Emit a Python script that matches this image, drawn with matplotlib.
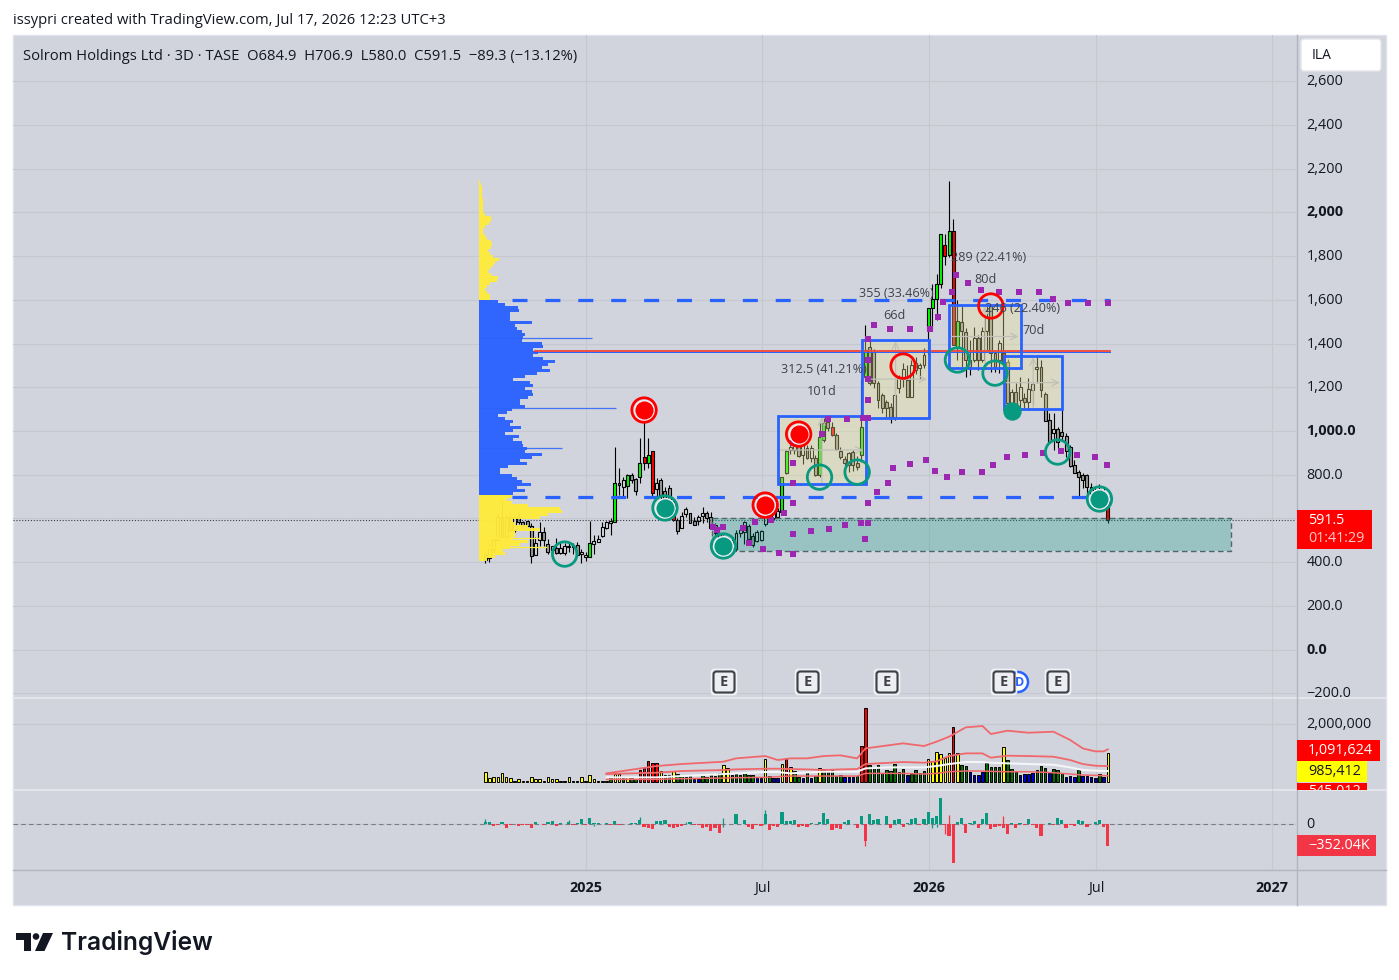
import numpy as np
import matplotlib
matplotlib.use("Agg")
import matplotlib.pyplot as plt
from matplotlib.patches import Rectangle, FancyBboxPatch, Polygon, Circle
from matplotlib.transforms import ScaledTranslation

# 3D OHLC candles
opens = [432,419,455,501,606,515,606,547,606,585,
         587,567,434,501,539,483,455,466,443,442,
         468,474,478,437,425,425,484,494,519,556,
         580,585,760,744,747,797,780,791,879,855,
         907,733,778,725,739,677,591,558,620,623,
         587,587,611,623,605,569,530,490,501,460,
         458,535,539,565,519,498,501,575,625,600,
         608,631,809,913,915,943,890,921,875,875,
         799,959,1043,1020,982,910,870,844,905,852,
         890,1249,1386,1363,1218,1165,1134,1111,1066,1195,
         1236,1233,1157,1279,1287,1302,1462,1561,1603,1671,
         1850,1805,1917,1386,1500,1452,1325,1325,1424,1325,
         1459,1572,1355,1325,1358,1317,1127,1180,1142,1149,
         1134,1188,1285,1294,1169,1050,989,1008,997,979,
         928,843,811,799,799,745,720,735,722,684.9]
highs = [440,485,510,620,680,615,620,612,625,590,
         590,577,516,585,562,504,472,512,486,486,
         486,486,490,458,445,587,524,524,583,590,
         600,925,829,791,802,809,783,966,1058,966,
         907,783,783,745,753,690,600,631,653,626,
         608,615,651,635,631,580,545,524,515,505,
         549,560,590,575,535,545,545,630,640,640,
         650,791,913,945,960,975,945,935,935,890,
         1035,1060,1066,1040,989,925,885,905,915,885,
         1240,1485,1416,1375,1230,1175,1140,1130,1233,1256,
         1310,1302,1325,1340,1310,1378,1561,1673,1719,1900,
         1900,2144,1969,1600,1577,1470,1416,1477,1440,1477,
         1572,1572,1365,1416,1568,1330,1190,1218,1249,1175,
         1241,1225,1340,1325,1180,1081,1081,1020,1096,989,
         935,867,821,810,805,760,745,756,745,706.9]
lows = [395,400,440,495,510,510,540,540,575,551,
        562,397,432,475,475,437,432,438,437,432,
        448,437,432,397,407,425,437,490,516,551,
        524,585,707,704,695,760,707,760,821,832,
        696,699,631,625,640,590,529,554,608,580,
        568,571,577,585,554,520,480,455,450,445,
        450,515,485,505,470,490,498,565,590,595,
        600,630,805,895,895,880,850,870,860,795,
        791,950,1000,975,913,870,809,814,815,821,
        860,1233,1210,1195,1104,1081,1066,1035,1050,1172,
        1200,1157,1155,1260,1240,1290,1347,1462,1508,1653,
        1760,1798,1394,1325,1294,1249,1256,1317,1280,1317,
        1371,1272,1272,1264,1300,1100,1100,1104,1096,1104,
        1096,1120,1218,1157,1047,944,913,913,959,882,
        837,806,703,740,707,707,690,670,660,580]
closes = [410,469,501,606,515,606,547,606,584,567,
          567,429,486,539,501,448,472,442,464,472,
          474,468,435,440,431,486,495,506,559,582,
          587,760,754,774,797,777,727,852,852,889,
          718,760,707,650,657,593,544,611,641,580,
          571,605,623,603,558,535,490,516,460,500,
          535,546,585,507,477,539,541,622,600,623,
          635,791,910,928,951,887,936,875,921,799,
          971,1035,1012,982,916,882,852,898,844,837,
          1020,1371,1218,1218,1142,1107,1107,1066,1165,1241,
          1282,1157,1302,1310,1302,1348,1561,1603,1671,1900,
          1802,1917,1394,1503,1459,1325,1294,1424,1325,1459,
          1523,1355,1294,1401,1310,1127,1180,1110,1203,1134,
          1192,1215,1294,1188,1047,951,1008,951,979,910,
          840,809,791,775,745,707,700,680,684,591.5]
green_bars = [25,31,34,37,39,71,72,80,81,90,91,106,107,108,109,111,113]
red_bars = [38,40,45,83,110,112,124,149]

# Volume in thousands, one colour letter per bar
volume = [325,116,151,174,290,151,116,23,81,23,
          23,151,81,81,23,151,81,81,23,23,
          151,23,35,174,23,221,81,23,23,23,
          116,256,256,116,151,116,81,395,465,708,
          639,639,360,221,221,360,256,186,151,186,
          81,81,256,151,256,186,290,569,465,221,
          256,221,290,221,221,151,116,778,186,116,
          116,604,778,499,372,151,128,325,128,186,
          465,430,325,395,186,221,151,151,151,186,
          1231,2555,569,499,569,290,395,360,604,325,
          430,221,256,395,290,360,778,708,1022,952,
          813,987,1893,987,569,534,325,221,221,325,
          639,499,499,499,1196,743,430,325,221,256,
          256,290,395,534,465,290,430,395,290,151,
          186,151,395,186,186,151,116,256,151,985]
volume_kind = ("yyyyyyyyyy" "yyyyyyyyyy" "yybyyyyyyy" "gyygygg" "rrr"
               "rryggygggg" "bbgggggyyg" "gggggbbygb" "byrygg" "bgbg"
               "yggggg" "bbbg" "rrgggggggg" "gbggggyyyy" "yyryggbbbb"
               "ggggyggg" "bb" "bbgggbgggb" "bbgbbbbgby")

# Volume bands, sampled along the lines
band_idx = [29,41,47,57,60,67,70,73,77,81,85,89,91,97,100,105,108,111,115,119,121,125,130,136,140,143,146,148,149]
band_upper = [290,546,616,697,813,894,755,813,813,894,918,813,1161,1278,1336,1243,1394,1568,1893,1940,1661,1777,1707,1742,1452,1161,1057,1057,1127]
band_mid = [267,314,372,407,430,453,453,441,430,407,430,441,616,662,685,662,708,894,987,987,836,906,894,871,755,616,557,546,546]
band_white = [151,151,197,267,290,337,337,290,325,348,348,348,465,499,499,499,546,616,685,685,662,639,616,592,499,407,383,372,372]
band_lower = [81,81,105,128,139,151,174,197,197,197,197,197,290,290,290,267,290,348,372,372,360,348,348,314,267,232,221,209,209]

# Volume delta in thousands
delta = [44,39,-33,-17,39,-61,-6,6,-22,-6,
         -17,-55,39,11,-6,44,50,-22,17,6,
         39,-6,17,88,-6,105,22,22,11,17,
         -6,55,-11,11,11,17,22,66,-44,-55,
         -77,50,55,72,-44,-55,-44,-22,6,39,
         -6,-6,-61,-44,-110,-61,-143,11,6,6,
         171,11,77,-44,-72,-17,-22,171,-88,-28,
         -44,204,55,55,66,-44,-28,-50,17,11,
         44,193,83,-99,-55,-83,33,72,6,-55,
         138,-275,165,77,94,11,132,-66,72,83,
         -44,17,83,99,-17,83,204,110,138,429,
         -11,-187,-633,44,110,-143,22,55,-55,83,
         182,-77,-44,-33,-55,-154,22,-55,17,-17,
         83,-6,-55,-187,11,17,-17,99,66,-55,
         -17,-33,66,55,-44,11,33,72,-39,-352]
delta_wick_idx = [0,20,37,48,57,57,67,91,110,111,124,107,108,26,31]
delta_wick_val = [83,72,121,39,99,-44,231,-358,-160,154,138,-55,-45,-25,30]

# Volume profile rows, top to bottom
profile_top = [3,6,8,9,10,10,11,11,12,12,11,18,36,37,31,18,13,11,18,23,36,38,35,28,33,43,60,48,43,33,28,35,58,53,33,23,18,25,33,33]
profile_value = [58,78,118,121,93,93,93,158,108,113,128,138,133,128,188,191,163,178,163,193,228,208,188,213,173,
                 138,103,153,161,138,158,163,148,123,123,138,98,83,58,78,103,93,125,103,78,121,103,128,133,143,
                 138,188,158,123,143,88,63,63,98,113,128,155,113,138,103]
profile_bottom = [98,83,98,148,243,248,208,183,103,108,148,183,108,108,103,148,123,93,73,78,48,23]
spike_prices = [1426,1105,922]
spike_sizes = [338,411,248]
yellow_spike_prices = [509,468]
yellow_spike_sizes = [183,205]

# Levels, boxes and markers
level_high = 1600
level_low = 699
poc = 1366
last_price = 591.5
zone = (54.2, 178.4, 451, 602)
boxes = [(70.0, 91.1, 757, 1069), (90.1, 106.3, 1059, 1416), (111.0, 128.2, 1288, 1577), (124.2, 138.1, 1100, 1343)]
box_text = [("312.5 (41.21%)", 70.8, 1282), ("101d", 77.0, 1182),
            ("355 (33.46%)", 89.5, 1629), ("66d", 95.3, 1529),
            ("289 (22.41%)", 111.4, 1793), ("80d", 117.0, 1693),
            ("246 (22.40%)", 119.5, 1561), ("70d", 128.6, 1461)]
target_red = ([38,75,67], [1096,986,661])
ring_red = ([100,121], [1297,1572])
ring_teal = ([19,80,89,113,122,137], [437,789,812,1325,1265,904])
target_teal = ([43,57,147], [648,474,689])
dot_teal = ([126], [1092])
dots_idx = [54.5,55.5,56.9,61.7,64.6,63.1,66.5,70.3,68.4,71.6,73.6,73.6,73.6,78,82.3,86.1,89.9,91.6,90.9,91.6,93.8,96.4,97.6,101.6,105.4,107.6,
            110.5,114.1,118.9,121.5,124.9,129.2,133.5,137.8,141.6,145.9,148.8,73.6,73.6,73.6,80.6,82,86.6,90.4,91.6,91.6,91.6,91.6,91.6,93,96.9,101.6,106.4,
            108.3,109.5,111.7,112.7,115.5,118.6,123,127.7,132.5,135.9,139.5,144.3,149]
dots_price = [561,547,561,556,584,487,460,442,593,625,670,529,437,542,551,570,579,579,506,670,721,762,831,849,867,817,
              789,812,812,844,881,890,899,908,890,881,844,762,854,945,986,1055,1055,1059,1059,1142,1238,1325,1421,1485,1467,1467,1467,
              1522,1590,1636,1714,1677,1645,1636,1636,1636,1604,1586,1586,1586]

price_ticks = [2600,2400,2200,2000,1800,1600,1400,1200,1000,800,600,400,200,0,-200]
price_labels = ["2,600","2,400","2,200","2,000","1,800","1,600","1,400","1,200","1,000.0","800.0","","400.0","200.0","0.0","\u2212200.0"]
bold_prices = ["2,000","1,000.0","0.0"]
time_ticks = [24.1,66.2,106.2,146.2,188.3]
time_labels = ["2025","Jul","2026","Jul","2027"]
earnings = [724,808,887,1004,1058]

BG = "#d1d4dc"
GRID = "#c6c8d0"
TXT = "#131722"
BLUE = "#2962ff"
TEAL = "#089981"
PURPLE = "#9c27b0"
plt.rcParams["font.family"] = ["Open Sans", "DejaVu Sans"]

W, H = 1399, 980
fig = plt.figure(figsize=(W / 100, H / 100), dpi=100, facecolor="white")


def make_pane(top, bottom, ylim):
    ax = fig.add_axes([13 / W, 1 - bottom / H, (1296 - 13) / W, (bottom - top) / H], zorder=2)
    ax.patch.set_alpha(0)
    ax.set_xlim(-113.04, 194.04)
    ax.set_ylim(*ylim)
    for s in ax.spines.values():
        s.set_visible(False)
    ax.yaxis.tick_right()
    ax.tick_params(length=0, labelcolor=TXT, labelsize=10.4)
    ax.tick_params(axis="y", pad=7.4)
    ax.set_xticks(time_ticks)
    ax.set_xticklabels([])
    ax.grid(True, color=GRID, lw=0.8, zorder=0)
    ax.set_axisbelow(True)
    return ax


# full figure layer in pixel coords, under the panes
back = fig.add_axes([0, 0, 1, 1], zorder=0)
back.set_xlim(0, W)
back.set_ylim(H, 0)
back.axis("off")
back.add_patch(Rectangle((13, 35), 1373, 870, fc=BG, ec="#e0e3eb", lw=1))
back.plot([13, 1386], [697.5, 697.5], color="#e9ebf0", lw=1.1)
back.plot([13, 1386], [789.5, 789.5], color="#e9ebf0", lw=1.1)
back.plot([13, 1386], [870, 870], color="#b2b5be", lw=1)
back.plot([1296.5, 1296.5], [35, 905], color="#b2b5be", lw=1)

price_ax = make_pane(35, 697, (-217, 2812))
vol_ax = make_pane(698, 789, (-254, 2916))
delta_ax = make_pane(790, 870, (-754, 566))

# Price pane
idx = np.arange(len(closes))
opens_a, closes_a = np.array(opens), np.array(closes)
price_ax.set_yticks(price_ticks)
price_ax.set_yticklabels(price_labels)
for lab in price_ax.get_yticklabels():
    if lab.get_text() in bold_prices:
        lab.set_fontweight("bold")

body_colors = []
for i in idx:
    if i in green_bars:
        body_colors.append("#00ff00")
    elif i in red_bars:
        body_colors.append("#ff0000")
    elif closes[i] >= opens[i]:
        body_colors.append("#d9dbe0")
    else:
        body_colors.append("#9a9a9a")
price_ax.vlines(idx, lows, highs, color="black", lw=0.8, zorder=3)
body_bottom = np.minimum(opens_a, closes_a)
body_height = np.maximum(np.abs(closes_a - opens_a), 8)
price_ax.bar(idx, body_height, bottom=body_bottom, width=0.7, color=body_colors,
             edgecolor="black", lw=0.8, zorder=3.1)

# zone and boxes sit over the candles
price_ax.add_patch(Rectangle((zone[0], zone[2]), zone[1] - zone[0], zone[3] - zone[2], fc=TEAL, alpha=0.28, ec="none", zorder=3.5))
price_ax.add_patch(Rectangle((zone[0], zone[2]), zone[1] - zone[0], zone[3] - zone[2], fc="none", ec="#4d6668", lw=1, ls=(0, (4, 2.5)), zorder=3.6))
for x0, x1, y0, y1 in boxes:
    price_ax.add_patch(Rectangle((x0, y0), x1 - x0, y1 - y0, fc="#ebe595", alpha=0.35, ec="none", zorder=3.5))
    xm, ym = (x0 + x1) / 2, (y0 + y1) / 2
    price_ax.annotate("", xy=(x1 - 0.6, ym), xytext=(x0, ym), zorder=3.7,
                      arrowprops=dict(arrowstyle="->", color="#c0c0b8", lw=0.9, mutation_scale=12, shrinkA=0, shrinkB=0))
    price_ax.annotate("", xy=(xm, y1 - 6), xytext=(xm, y0), zorder=3.7,
                      arrowprops=dict(arrowstyle="->", color="#c0c0b8", lw=0.9, mutation_scale=12, shrinkA=0, shrinkB=0))
    price_ax.add_patch(Rectangle((x0, y0), x1 - x0, y1 - y0, fc="none", ec=BLUE, lw=2.0, zorder=4.6))

# Volume profile
row_step = 13.73
all_rows = profile_top + profile_value + profile_bottom
row_prices = 2141 - row_step * np.arange(len(all_rows))
row_colors = ["#ffeb3b"] * len(profile_top) + [BLUE] * len(profile_value) + ["#ffeb3b"] * len(profile_bottom)
prof_left = -1.51
price_ax.barh(row_prices, np.array(all_rows) / 12.534, left=prof_left, height=row_step,
              color=row_colors, lw=0, alpha=0.96, zorder=4)
price_ax.hlines(spike_prices, prof_left, prof_left + np.array(spike_sizes) / 12.534, color=BLUE, lw=0.9, alpha=0.85, zorder=4)
price_ax.hlines(yellow_spike_prices, prof_left, prof_left + np.array(yellow_spike_sizes) / 12.534, color="#ffeb3b", lw=0.9, zorder=4)

# Levels
for lvl in [level_high, level_low]:
    price_ax.plot([6.4, 149.5], [lvl, lvl], color=BLUE, lw=2.3, ls=(0, (4.7, 5.6)), dash_capstyle="butt", zorder=4.5)
price_ax.plot([11.9, 149.5], [poc - 4, poc - 4], color=BLUE, lw=0.7, zorder=4.4)
price_ax.plot([11.9, 149.5], [poc, poc], color="#f44336", lw=1.3, zorder=4.5)
price_ax.axhline(last_price, color="#3a3d48", lw=0.8, ls=(0, (1, 1.6)), zorder=3.4)

# Purple dots and signal circles
price_ax.scatter(dots_idx, dots_price, s=24, marker="s", color=PURPLE, lw=0, zorder=5)
ring_kw = dict(s=310, facecolor="none", lw=2.0, zorder=6)
price_ax.scatter(*ring_red, edgecolor="#ff0000", **ring_kw)
price_ax.scatter(*ring_teal, edgecolor=TEAL, **ring_kw)
price_ax.scatter(*target_red, s=230, color="#eef0f4", lw=0, zorder=5.9)
price_ax.scatter(*target_teal, s=230, color="#eef0f4", lw=0, zorder=5.9)
price_ax.scatter(*target_red, edgecolor="#ff0000", **ring_kw)
price_ax.scatter(*target_teal, edgecolor=TEAL, **ring_kw)
price_ax.scatter(*target_red, s=170, color="#ff0000", lw=0, zorder=6.1)
price_ax.scatter(*target_teal, s=170, color=TEAL, lw=0, zorder=6.1)
price_ax.scatter(*dot_teal, s=175, color=TEAL, lw=0, zorder=6.1)
for label, x, y in box_text:
    price_ax.text(x, y, label, color="#3f424c", fontsize=9.1, va="center", zorder=7)

# Volume pane
kind_colors = {"y": "#ffff00", "r": "#ff0000", "g": "#007000", "b": "#0000cc"}
vol_colors = [kind_colors[k] for k in volume_kind]
vol_ax.set_yticks([2000])
vol_ax.set_yticklabels(["2,000,000"])
vol_ax.bar(idx, volume, width=0.6, color=vol_colors, edgecolor="black", lw=0.7, zorder=3)
vol_ax.plot(band_idx, band_upper, color="#f0686c", lw=1.3, zorder=4)
vol_ax.plot(band_idx, band_mid, color="#f0686c", lw=1.3, zorder=4)
vol_ax.plot(band_idx, band_white, color="#f4f5f8", lw=1.5, zorder=3.9)
vol_ax.plot(band_idx, band_lower, color="#f0686c", lw=1.1, zorder=4)

# Delta pane
delta_colors = [TEAL if v >= 0 else "#f23645" for v in delta]
delta_ax.set_yticks([0])
delta_ax.set_yticklabels(["0"])
delta_ax.bar(idx, delta, width=0.76, color=delta_colors, lw=0, zorder=3)
wick_colors = [delta_colors[i] for i in delta_wick_idx]
delta_ax.vlines(delta_wick_idx, 0, delta_wick_val, color=wick_colors, lw=0.9, zorder=3)
delta_ax.axhline(0, color="#787b86", lw=0.8, ls=(0, (4, 3)), zorder=2.5)
delta_ax.set_xticklabels(time_labels)
delta_ax.tick_params(axis="x", pad=8, labelsize=10.4)
for lab in delta_ax.get_xticklabels():
    if lab.get_text().isdigit():
        lab.set_fontweight("bold")

# nudge the scale labels up a little
nudge = ScaledTranslation(0, 1.5 / 100, fig.dpi_scale_trans)
for lab in price_ax.get_yticklabels() + vol_ax.get_yticklabels() + delta_ax.get_yticklabels():
    lab.set_transform(lab.get_transform() + nudge)

# Chrome layer
top = fig.add_axes([0, 0, 1, 1], zorder=5)
top.patch.set_alpha(0)
top.set_xlim(0, W)
top.set_ylim(H, 0)
top.axis("off")

top.text(13, 20, "issypri created with TradingView.com, Jul 17, 2026 12:23 UTC+3", fontsize=10.6, color=TXT, va="center")
top.text(23, 56, "Solrom Holdings Ltd \u00b7 3D \u00b7 TASE  O684.9  H706.9  L580.0  C591.5  \u221289.3 (\u221213.12%)",
         fontsize=10.6, color=TXT, va="center")

top.add_patch(FancyBboxPatch((1303, 41), 76, 28, boxstyle="round,pad=2,rounding_size=3", fc="white", ec="#e4e6eb", lw=1))
top.text(1312, 55.5, "ILA", fontsize=10, color=TXT, va="center")

# Earnings badges
top.add_patch(Circle((1018, 682), 10, fc="white", ec=BLUE, lw=1.8))
top.text(1019, 682, "D", fontsize=9, color=BLUE, ha="center", va="center", fontweight="bold")
for ex in earnings:
    top.add_patch(FancyBboxPatch((ex - 11, 671), 22, 22, boxstyle="round,pad=1.5,rounding_size=3", fc="none", ec="#f2f3f6", lw=1.2))
    top.add_patch(FancyBboxPatch((ex - 10, 672), 20, 20, boxstyle="round,pad=0.5,rounding_size=3", fc="#eceef2", ec="#3f4148", lw=1.5))
    top.text(ex, 682, "E", fontsize=10.5, color="#3f4148", ha="center", va="center", fontweight="bold")

# Price labels on the scale
top.add_patch(Rectangle((1297, 510), 75, 39, fc="#ff0000", ec="none"))
top.text(1308, 520.5, "591.5", color="white", fontsize=10.4, va="center")
top.text(1308, 538.5, "01:41:29", color="#ffc9c9", fontsize=10.4, va="center")
top.add_patch(Rectangle((1297, 740), 83, 21, fc="#ff0000", ec="none"))
top.text(1308, 750, "1,091,624", color="white", fontsize=10.4, va="center")
top.add_patch(Rectangle((1297, 761), 70, 21, fc="#ffff00", ec="none"))
top.text(1308, 771, "985,412", color=TXT, fontsize=10.4, va="center")
clip_box = Rectangle((1297, 783), 70, 6.5, fc="#ff0000", ec="none")
top.add_patch(clip_box)
clipped = top.text(1308, 791, "545,012", color="white", fontsize=10.4, va="center")
clipped.set_clip_path(clip_box)
clipped.set_clip_on(True)
top.add_patch(Rectangle((1297, 835), 79, 21, fc="#f23645", ec="none"))
top.text(1308, 845.5, "\u2212352.04K", color="white", fontsize=10.4, va="center")

# TradingView logo
ink = "#131722"
top.add_patch(Polygon([(16, 933), (31, 933), (31, 951), (24, 951), (24, 940), (16, 940)], fc=ink, ec="none"))
top.add_patch(Circle((36, 936.5), 3.3, fc=ink, ec="none"))
top.add_patch(Polygon([(43, 933), (53, 933), (44.5, 951), (35, 951)], fc=ink, ec="none"))
top.text(61, 942, "TradingView", fontsize=17.7, fontfamily="Inter", fontweight="semibold", color=ink, va="center")

fig.savefig("out.png", dpi=100, facecolor="white")
